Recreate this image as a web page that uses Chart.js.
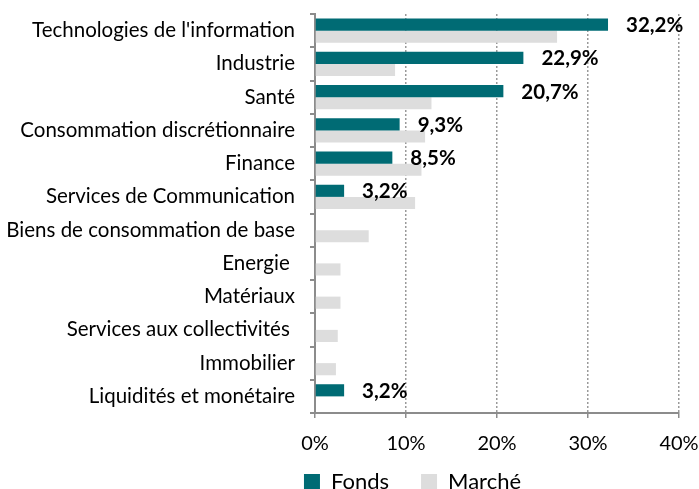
<!DOCTYPE html>
<html>
<head>
<meta charset="utf-8">
<script src="https://cdn.jsdelivr.net/npm/chart.js@4/dist/chart.umd.min.js"></script>
<style>
  html, body { margin: 0; padding: 0; background: #fff; }
  #wrap { width: 699px; height: 489px; }
</style>
</head>
<body>
<div id="wrap"><canvas id="chart"></canvas></div>
<script>
// Sectors, top to bottom
const categories = [
  "Technologies de l'information",
  'Industrie',
  'Santé',
  'Consommation discrétionnaire',
  'Finance',
  'Services de Communication',
  'Biens de consommation de base',
  'Energie ',
  'Matériaux',
  'Services aux collectivités ',
  'Immobilier',
  'Liquidités et monétaire'
];
const fonds = [32.2, 22.9, 20.7, 9.3, 8.5, 3.2, 0, 0, 0, 0, 0, 3.2];
const marche = [26.6, 8.8, 12.8, 12.1, 11.7, 11.0, 5.9, 2.8, 2.8, 2.5, 2.3, 0];
const xTicks = [0, 10, 20, 30, 40];

const teal = '#006b74';
const lightGrey = '#dddddd';
const axisGrey = '#8c8c8c';

// values written next to the Fonds bars, French decimal comma
const valueLabels = {
  id: 'valueLabels',
  afterDatasetsDraw(chart) {
    const ctx = chart.ctx;
    const meta = chart.getDatasetMeta(0);
    ctx.save();
    ctx.font = 'bold 20.5px Lato';
    ctx.fillStyle = '#000';
    ctx.textBaseline = 'middle';
    meta.data.forEach((bar, i) => {
      if (!fonds[i]) return;
      const txt = fonds[i].toFixed(1).replace('.', ',') + '%';
      ctx.fillText(txt, bar.x + 18, bar.y + 1);
    });
    ctx.restore();
  }
};

// legend in the reference sits right of centre and close under the ticks
const legendShift = {
  id: 'legendShift',
  afterLayout(chart) {
    const lg = chart.legend;
    lg.left += 63;
    lg.right += 63;
    lg.top -= 31;
    lg.bottom -= 31;
  }
};

new Chart(document.getElementById('chart'), {
  type: 'bar',
  data: {
    labels: categories,
    datasets: [
      { label: 'Fonds', data: fonds, backgroundColor: teal },
      { label: 'Marché', data: marche, backgroundColor: lightGrey }
    ]
  },
  options: {
    indexAxis: 'y',
    responsive: true,
    maintainAspectRatio: false,
    animation: false,
    categoryPercentage: 0.73,
    barPercentage: 1,
    layout: { padding: { top: 14, left: 0, right: 0, bottom: -45 } },
    scales: {
      x: {
        min: 0,
        max: 40,
        afterBuildTicks: (scale) => { scale.ticks = xTicks.map(v => ({ value: v })); },
        afterFit: (scale) => { scale.paddingRight = 20; },
        ticks: {
          callback: (v) => v + '%',
          color: '#000',
          font: { family: 'Lato', size: 20 },
          padding: 14
        },
        grid: {
          color: (c) => c.index === 0 ? 'rgba(0,0,0,0)' : '#9a9a9a',
          lineWidth: 1.5,
          tickColor: axisGrey,
          tickLength: 5,
          tickBorderDash: []
        },
        border: { color: axisGrey, width: 2, dash: [2, 2] }
      },
      y: {
        afterFit: (scale) => {
          scale.width = 315;
          scale.paddingTop = 0;
          scale.paddingBottom = 0;
        },
        ticks: {
          color: '#000',
          font: { family: 'Lato', size: 20.5 },
          padding: 15,
          autoSkip: false
        },
        grid: {
          offset: true,
          drawOnChartArea: false,
          color: axisGrey,
          lineWidth: 2,
          tickLength: 5
        },
        border: { color: axisGrey, width: 2 }
      }
    },
    plugins: {
      legend: {
        position: 'bottom',
        labels: {
          color: '#000',
          font: { family: 'Lato', size: 22 },
          boxWidth: 16,
          boxHeight: 16,
          padding: 32
        }
      },
      tooltip: { enabled: false }
    }
  },
  plugins: [valueLabels, legendShift]
});
</script>
</body>
</html>
